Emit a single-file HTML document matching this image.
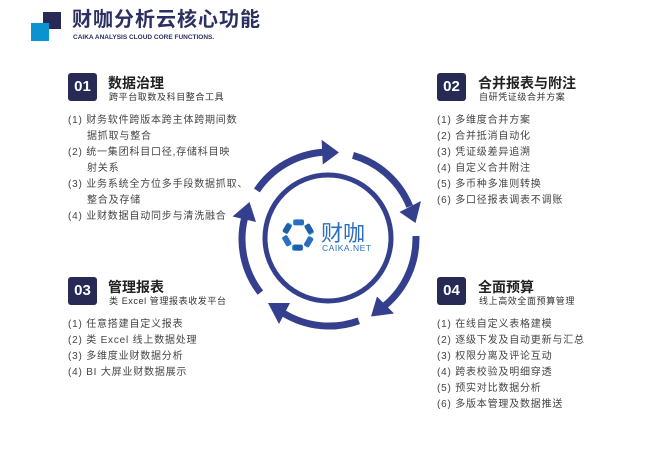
<!DOCTYPE html>
<html><head><meta charset="utf-8"><style>
body{margin:0;width:650px;height:451px;background:#fff;position:relative;overflow:hidden;font-family:"Liberation Sans","Noto Sans CJK SC",sans-serif;color:#444}
.a{position:absolute;white-space:nowrap}
.badge{position:absolute;width:29px;height:28px;background:#262a54;border-radius:3px;color:#fff;font-weight:bold;font-size:15px;line-height:28px;text-align:center}
.t{position:absolute;font-size:14px;font-weight:bold;color:#222;white-space:nowrap;line-height:18px}
.s{position:absolute;font-size:9px;color:#333;white-space:nowrap;letter-spacing:0.6px;line-height:12px}
.l{position:absolute;font-size:10px;line-height:16px;color:#444;white-space:nowrap;letter-spacing:0.8px}
.l div{padding-left:19px;text-indent:-19px}
</style></head><body>
<div class="a" style="left:43px;top:12px;width:18px;height:17px;background:#262a54"></div>
<div class="a" style="left:31px;top:23px;width:18px;height:18px;background:#0a93d0"></div>
<div class="a" style="left:72px;top:8px;font-size:20px;line-height:24px;font-weight:bold;color:#2b3060;letter-spacing:1px">财咖分析云核心功能</div>
<div class="a" style="left:73px;top:34px;font-size:6.5px;line-height:8px;font-weight:bold;color:#2b3060">CAIKA ANALYSIS CLOUD CORE FUNCTIONS.</div>

<div class="badge" style="left:68px;top:73px">01</div>
<div class="t" style="left:108px;top:74px">数据治理</div>
<div class="s" style="left:109px;top:91px">跨平台取数及科目整合工具</div>
<div class="l" style="left:68px;top:113px"><div>(1) 财务软件跨版本跨主体跨期间数<br>据抓取与整合</div><div>(2) 统一集团科目口径,存储科目映<br>射关系</div><div>(3) 业务系统全方位多手段数据抓取、<br>整合及存储</div><div>(4) 业财数据自动同步与清洗融合</div></div>

<div class="badge" style="left:437px;top:73px">02</div>
<div class="t" style="left:478px;top:74px">合并报表与附注</div>
<div class="s" style="left:479px;top:91px">自研凭证级合并方案</div>
<div class="l" style="left:437px;top:113px"><div>(1) 多维度合并方案</div><div>(2) 合并抵消自动化</div><div>(3) 凭证级差异追溯</div><div>(4) 自定义合并附注</div><div>(5) 多币种多准则转换</div><div>(6) 多口径报表调表不调账</div></div>

<div class="badge" style="left:68px;top:277px">03</div>
<div class="t" style="left:108px;top:278px">管理报表</div>
<div class="s" style="left:109px;top:295px">类 Excel 管理报表收发平台</div>
<div class="l" style="left:68px;top:317px"><div>(1) 任意搭建自定义报表</div><div>(2) 类 Excel 线上数据处理</div><div>(3) 多维度业财数据分析</div><div>(4) BI 大屏业财数据展示</div></div>

<div class="badge" style="left:437px;top:277px">04</div>
<div class="t" style="left:478px;top:278px">全面预算</div>
<div class="s" style="left:479px;top:295px">线上高效全面预算管理</div>
<div class="l" style="left:437px;top:317px"><div>(1) 在线自定义表格建模</div><div>(2) 逐级下发及自动更新与汇总</div><div>(3) 权限分离及评论互动</div><div>(4) 跨表校验及明细穿透</div><div>(5) 预实对比数据分析</div><div>(6) 多版本管理及数据推送</div></div>

<svg class="a" style="left:0;top:0" width="650" height="451">
<g fill="none" stroke="#34408e" stroke-width="7">
<path d="M256.9 190.4 A87 87 0 0 1 322.9 152.2"/>
<path d="M353.0 155.4 A87 87 0 0 1 409.7 206.4"/>
<path d="M415.9 236.0 A87 87 0 0 1 384.9 305.6"/>
<path d="M358.8 320.8 A87 87 0 0 1 282.9 312.8"/>
<path d="M260.4 292.6 A87 87 0 0 1 244.6 218.0"/>
<circle cx="328" cy="238" r="63" stroke-width="5"/>
</g>
<g fill="#34408e">
<polygon points="339,152.5 322.8,164.5 321.6,139.8"/>
<polygon points="415.5,223 399.5,212 421,201"/>
<polygon points="371,316.5 377,296.5 394,313.5"/>
<polygon points="268,303 290,303 279,324"/>
<polygon points="249.5,202 256,222 232.5,216.5"/>
</g>
<g transform="translate(298,235) scale(1.2)">
<g fill="#2a6fc0"><rect x="-4" y="-13" width="9" height="5" rx="1.5"/><rect x="-4" y="-13" width="9" height="5" rx="1.5" transform="rotate(120)"/><rect x="-4" y="-13" width="9" height="5" rx="1.5" transform="rotate(240)"/></g>
<g fill="#29a6e0"><rect x="-4" y="-13" width="9" height="5" rx="1.5" transform="rotate(60)"/><rect x="-4" y="-13" width="9" height="5" rx="1.5" transform="rotate(180)"/><rect x="-4" y="-13" width="9" height="5" rx="1.5" transform="rotate(300)"/></g>
<g fill="#1f5ea8"><rect x="-13" y="-4" width="5" height="8" rx="1.5" transform="rotate(30)"/><rect x="-13" y="-4" width="5" height="8" rx="1.5" transform="rotate(150)"/><rect x="-13" y="-4" width="5" height="8" rx="1.5" transform="rotate(270)"/></g>
</g>
<text x="321" y="241" font-size="22" fill="#2a6fc0" font-family="Liberation Sans,Noto Sans CJK SC,sans-serif">财咖</text>
<text x="322" y="251" font-size="8.5" fill="#2a6fc0" font-family="Liberation Sans,sans-serif" textLength="49">CAIKA.NET</text>
</svg>
</body></html>
